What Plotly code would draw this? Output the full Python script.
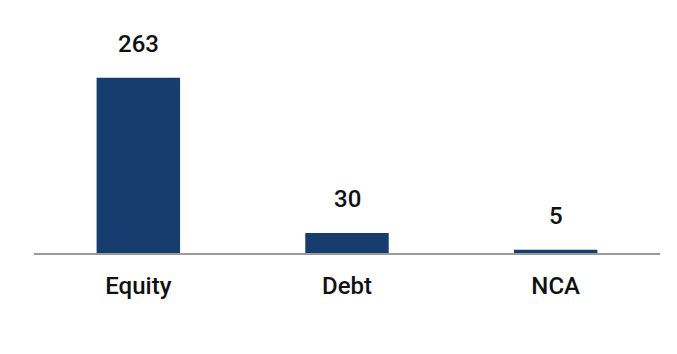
import plotly.graph_objects as go

categories = ["Equity", "Debt", "NCA"]
values = [263, 30, 5]
labels = ["263", "30", "5"]

FONT = "Roboto"
fig = go.Figure(go.Bar(x=categories, y=values, marker_color="#173d6f", marker_line_width=0,
                       hoverinfo="skip"))
for c, v, t in zip(categories, values, labels):
    fig.add_annotation(x=c, y=v, text=t, showarrow=False, yanchor="bottom", yshift=18,
                       font=dict(family=FONT, size=24, color="#111111", weight=500))

fig.update_layout(
    width=677, height=354, margin=dict(l=34, r=17, t=53, b=101),
    plot_bgcolor="white", paper_bgcolor="white", bargap=0.6, showlegend=False,
    xaxis=dict(showline=True, linecolor="#9a9a9a", linewidth=2, ticks="outside", ticklen=10,
               tickcolor="rgba(0,0,0,0)", tickfont=dict(family=FONT, size=24, color="#111111", weight=500),
               showgrid=False),
    yaxis=dict(range=[0, 300], visible=False, showgrid=False),
)
fig.write_html("out.html")
